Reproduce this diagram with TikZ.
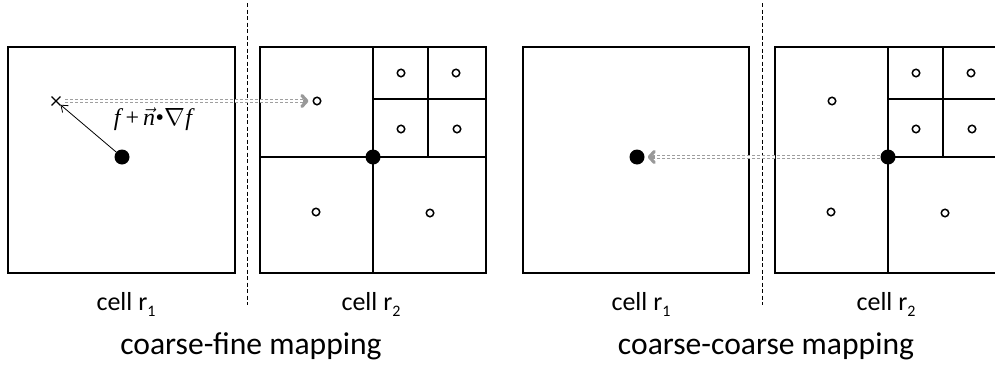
\documentclass[tikz,border=0pt]{standalone}
\usepackage{fontspec}
\setmainfont{Carlito}
\newfontfamily\tnr{Liberation Serif}
\usetikzlibrary{arrows.meta,shapes.misc,calc}
\begin{document}
\begin{tikzpicture}[x=1pt,y=-1pt,
  cellbox/.style={line width=1.7pt},
  gridline/.style={line width=1.5pt},
  sepline/.style={line width=0.8pt, dash pattern=on 4pt off 2.5pt},
  bigdot/.style={circle, fill=black, inner sep=0pt, minimum size=15pt},
  sample/.style={circle, draw, line width=1.5pt, inner sep=0pt, minimum size=7.5pt},
  xmark/.style={cross out, draw, line width=1.4pt, inner sep=0pt, minimum size=7.5pt},
  mapline/.style={draw=gray!75, double=white, double distance=1.3pt, line width=1.1pt,
     dash pattern=on 3pt off 2pt},
  maptip/.style={draw=gray!80, line width=3pt,
     -{Straight Barb[length=5pt,width=11pt,line width=3.2pt,round]}},
  normalarrow/.style={line width=0.8pt, -{Straight Barb[length=6pt,width=9pt]}},
  lbl/.style={font=\fontsize{26}{30}\selectfont, inner sep=0pt, anchor=base},
  ttl/.style={font=\fontsize{31.6}{36}\selectfont, inner sep=0pt, anchor=base}]
\useasboundingbox (0,0) rectangle (995,367);
\clip (0,0) rectangle (995,367);

% dividers
\coordinate (v1t) at (247,3); \coordinate (v1b) at (247,305);
\coordinate (v2t) at (762,3); \coordinate (v2b) at (762,305);
\draw[sepline] (v1t) -- (v1b);
\draw[sepline] (v2t) -- (v2b);

% box 1
\draw[cellbox] (8,47) rectangle (235,273);
% box 2
\draw[cellbox] (260,47) rectangle (486,273);
\draw[gridline] (373,47) -- (373,273) (260,157) -- (486,157) (428,47) -- (428,157) (373,99) -- (486,99);
% box 3
\draw[cellbox] (523,47) rectangle (749,273);
% box 4
\draw[cellbox] (775,47) rectangle (1001,273);
\draw[gridline] (888,47) -- (888,273) (888,157) -- (1001,157) (943,47) -- (943,157) (888,99) -- (1001,99);

% dots
\node[bigdot] (d1) at (122,157) {};
\node[bigdot] (d2) at (373,157) {};
\node[bigdot] (d3) at (637,157) {};
\node[bigdot] (d4) at (888,157) {};

% samples box 2
\node[sample] (s1) at (317,101) {};
\node[sample] (s2) at (401,73) {};
\node[sample] (s3) at (456,73) {};
\node[sample] (s4) at (401,129) {};
\node[sample] (s5) at (457,129) {};
\node[sample] (s6) at (316,212) {};
\node[sample] (s7) at (430,213) {};
% samples box 4
\node[sample] (t1) at (832,101) {};
\node[sample] (t2) at (916,73) {};
\node[sample] (t3) at (971,73) {};
\node[sample] (t4) at (916,129) {};
\node[sample] (t5) at (972,129) {};
\node[sample] (t6) at (831,212) {};
\node[sample] (t7) at (945,213) {};

% x mark
\node[xmark] (xm) at (56,101) {};

% arrows
\draw[normalarrow] (d1) -- (xm);
\draw[mapline, shorten <=5pt, shorten >=10pt] (xm) -- (s1);
\draw[maptip] ($(s1.west)+(-10,0)$) -- ($(s1.west)+(-4,0)$);
\draw[mapline, shorten >=8pt] (d4) -- (d3);
\draw[maptip] ($(d3.east)+(10,0)$) -- ($(d3.east)+(3,0)$);

% formula
\node[inner sep=0pt, font=\fontsize{24}{28}\selectfont\tnr] (fm) at (153,119)
  {\itshape f\kern5pt{\upshape +}\kern4pt$\vec{\mbox{\tnr\itshape n}}$\kern0.5pt{\upshape •}$\nabla$\kern0.5pt f};

% labels
\node[lbl] (c1) at (126,310) {cell r\raisebox{-6pt}{\fontsize{16}{16}\selectfont 1}};
\node[lbl] (c2) at (371,310) {cell r\raisebox{-6pt}{\fontsize{16}{16}\selectfont 2}};
\node[lbl] (c3) at (641,310) {cell r\raisebox{-6pt}{\fontsize{16}{16}\selectfont 1}};
\node[lbl] (c4) at (886,310) {cell r\raisebox{-6pt}{\fontsize{16}{16}\selectfont 2}};
\node[ttl] (t1l) at (251,354) {coarse-fine mapping};
\node[ttl] (t2l) at (766,354) {coarse-coarse mapping};
\end{tikzpicture}
\end{document}
